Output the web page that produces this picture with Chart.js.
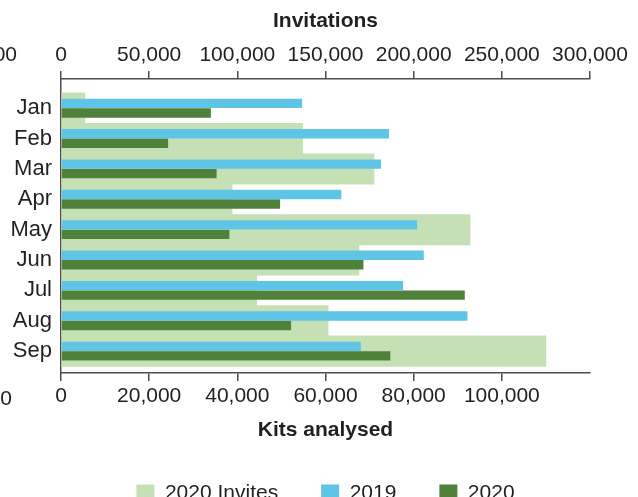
<!DOCTYPE html>
<html>
<head>
<meta charset="utf-8">
<script src="https://cdn.jsdelivr.net/npm/chart.js@4"></script>
<style>
    html, body { margin: 0; padding: 0; background: #fff; overflow: hidden; }
    #wrap { position: relative; width: 638px; height: 514px; }
    .cut { position: absolute; font: 21px 'Liberation Sans', Arial, sans-serif; color: #231f20; }
</style>
</head>
<body>
<div id="wrap">
    <canvas id="kits"></canvas>
    <span class="cut" style="right: 621px; top: 42px;">00</span>
    <span class="cut" style="right: 626px; top: 386px;">0</span>
</div>
<script>
const months = ['Jan', 'Feb', 'Mar', 'Apr', 'May', 'Jun', 'Jul', 'Aug', 'Sep'];
const invites2020 = [13600, 137000, 177500, 97000, 232000, 169000, 111000, 151500, 275000];
const kits2019 = [54700, 74400, 72600, 63600, 80800, 82300, 77600, 92200, 68000];
const kits2020 = [34000, 24300, 35300, 49700, 38200, 68600, 91600, 52200, 74700];
const invitationTicks = [0, 50000, 100000, 150000, 200000, 250000, 300000];
const kitTicks = [0, 20000, 40000, 60000, 80000, 100000];

document.addEventListener('DOMContentLoaded', () => {
    Chart.defaults.font.family = "'Liberation Sans', Arial, sans-serif";
    Chart.defaults.color = '#231f20';

    const axisColor = '#4d4d4d';
    const fmt = v => v.toLocaleString('en-US');
    const pts = arr => arr.map((v, i) => ({x: v, y: i}));

    let ctx = document.getElementById('kits').getContext('2d');
    new Chart(ctx, {
        type: 'bar',
        data: {
            datasets: [
                {
                    label: '2020 Invites',
                    data: pts(invites2020),
                    xAxisID: 'xTop',
                    backgroundColor: '#c6e0b5',
                    grouped: false,
                    categoryPercentage: 1,
                    barPercentage: 1,
                    order: 1
                },
                {
                    label: '2019',
                    data: pts(kits2019),
                    xAxisID: 'x',
                    backgroundColor: '#5ec5e7',
                    categoryPercentage: 0.63,
                    barPercentage: 0.98,
                    order: 0
                },
                {
                    label: '2020',
                    data: pts(kits2020),
                    xAxisID: 'x',
                    backgroundColor: '#4f813a',
                    categoryPercentage: 0.63,
                    barPercentage: 0.98,
                    order: 0
                }
            ]
        },
        options: {
            indexAxis: 'y',
            responsive: true,
            maintainAspectRatio: false,
            animation: false,
            layout: { padding: { left: 0, right: 48, top: 0, bottom: 0 } },
            plugins: {
                legend: {
                    position: 'bottom',
                    fullSize: false,
                    labels: {
                        boxWidth: 18,
                        boxHeight: 18,
                        padding: 43,
                        font: { size: 21 },
                        sort: (a, b) => a.datasetIndex - b.datasetIndex
                    }
                },
                tooltip: { enabled: false }
            },
            scales: {
                y: {
                    type: 'linear',
                    reverse: true,
                    offset: false,
                    min: -0.96,
                    max: 8.72,
                    afterBuildTicks: s => { s.ticks = months.map((m, i) => ({value: i})); },
                    afterFit: s => { s.width = 61; },
                    ticks: {
                        autoSkip: false,
                        padding: 9,
                        font: { size: 22 },
                        callback: v => months[v]
                    },
                    grid: { display: false, drawTicks: false, offset: false },
                    border: { display: true, color: axisColor, width: 1.5 }
                },
                xTop: {
                    type: 'linear',
                    position: 'top',
                    min: 0,
                    max: 300000,
                    afterBuildTicks: s => { s.ticks = invitationTicks.map(v => ({value: v})); },
                    afterFit: s => { s.height = 79; },
                    ticks: {
                        autoSkip: false,
                        maxRotation: 0,
                        padding: 3,
                        font: { size: 21 },
                        callback: v => fmt(v)
                    },
                    grid: { drawOnChartArea: false, tickLength: 8, color: axisColor, lineWidth: 1.5 },
                    border: { color: axisColor, width: 1.5 },
                    title: {
                        display: true,
                        text: 'Invitations',
                        font: { size: 21, weight: 'bold' },
                        padding: { top: 9, bottom: 0 }
                    }
                },
                x: {
                    type: 'linear',
                    position: 'bottom',
                    min: 0,
                    max: 120000,
                    afterBuildTicks: s => { s.ticks = kitTicks.map(v => ({value: v})); },
                    afterFit: s => { s.height = 67; },
                    ticks: {
                        autoSkip: false,
                        maxRotation: 0,
                        padding: 3,
                        font: { size: 21 },
                        callback: v => fmt(v)
                    },
                    grid: { drawOnChartArea: false, tickLength: 8, color: axisColor, lineWidth: 1.5 },
                    border: { color: axisColor, width: 1.5 },
                    title: {
                        display: true,
                        text: 'Kits analysed',
                        font: { size: 21, weight: 'bold' },
                        padding: { top: 0, bottom: -3 }
                    }
                }
            }
        }
    });
});
</script>
</body>
</html>
